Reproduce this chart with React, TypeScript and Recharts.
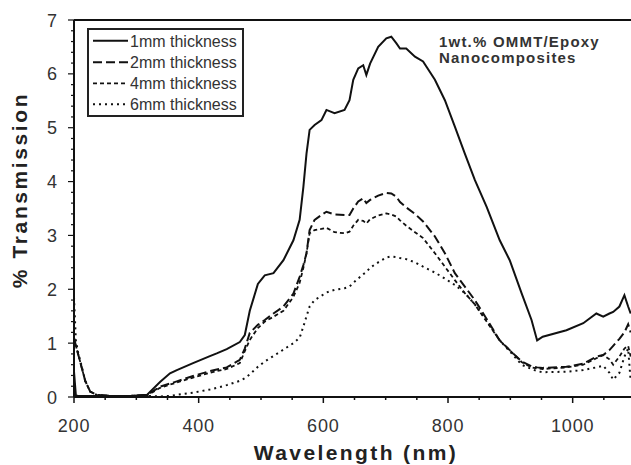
import React from 'react';
import { LineChart, Line, XAxis, YAxis, ReferenceLine, Legend } from 'recharts';

// ---- data ----
const wavelengths = [
  200, 203, 207, 210, 218, 226, 236, 260, 290, 317, 338, 354, 365, 391, 418, 429, 445, 466, 474, 482,
  495, 506, 520, 536, 552, 562, 568, 573, 578, 586, 597, 605, 618, 634, 642, 648, 656, 664, 669, 675,
  688, 701, 709, 717, 723, 733, 747, 760, 779, 795, 811, 827, 843, 862, 883, 899, 918, 934, 943, 952,
  990, 1017, 1038, 1049, 1059, 1065, 1075, 1083, 1089, 1093,
];
const t1mm = [
  0.47, 0.03, 0.02, 0.02, 0.02, 0.02, 0.02, 0.02, 0.02, 0.04, 0.28, 0.44, 0.5, 0.63, 0.76, 0.81, 0.89, 1.02, 1.15, 1.6,
  2.1, 2.26, 2.3, 2.54, 2.91, 3.29, 3.9, 4.52, 4.96, 5.05, 5.14, 5.33, 5.27, 5.33, 5.51, 5.89, 6.1, 6.16, 5.98, 6.19,
  6.5, 6.66, 6.69, 6.57, 6.47, 6.47, 6.32, 6.23, 5.89, 5.51, 5.02, 4.52, 4.03, 3.53, 2.91, 2.54, 1.93, 1.43, 1.05, 1.12,
  1.24, 1.37, 1.55, 1.49, 1.55, 1.58, 1.68, 1.89, 1.68, 1.55,
];
const t2mm = [
  1.1, 0.95, 0.78, 0.65, 0.3, 0.1, 0.04, 0.02, 0.02, 0.04, 0.19, 0.25, 0.29, 0.39, 0.48, 0.51, 0.55, 0.69, 0.9, 1.19,
  1.34, 1.43, 1.55, 1.68, 1.92, 2.23, 2.45, 2.67, 3.1, 3.29, 3.38, 3.44, 3.39, 3.38, 3.38, 3.5, 3.63, 3.69, 3.6, 3.66,
  3.74, 3.79, 3.78, 3.72, 3.62, 3.52, 3.4, 3.26, 2.98, 2.67, 2.3, 2.05, 1.8, 1.45, 1.05, 0.87, 0.66, 0.57, 0.55, 0.54,
  0.56, 0.62, 0.75, 0.78, 0.87, 0.95, 1.08, 1.2, 1.35, 1.2,
];
const t4mm = [
  1.1, 0.95, 0.78, 0.65, 0.3, 0.1, 0.04, 0.02, 0.02, 0.03, 0.17, 0.23, 0.27, 0.36, 0.45, 0.48, 0.52, 0.63, 0.85, 1.06,
  1.28, 1.4, 1.49, 1.6, 1.86, 2.12, 2.4, 2.67, 3.04, 3.1, 3.12, 3.14, 3.06, 3.04, 3.07, 3.18, 3.29, 3.27, 3.22, 3.3,
  3.37, 3.41, 3.39, 3.35, 3.28, 3.18, 3.06, 2.95, 2.67, 2.42, 2.17, 1.93, 1.72, 1.4, 1.05, 0.87, 0.65, 0.55, 0.53, 0.52,
  0.55, 0.6, 0.72, 0.78, 0.7, 0.6, 0.75, 0.9, 0.95, 0.75,
];
const t6mm = [
  1.85, 1.05, 0.8, 0.68, 0.3, 0.1, 0.04, 0.02, 0.02, 0.02, 0.01, 0.02, 0.04, 0.08, 0.14, 0.17, 0.22, 0.3, 0.35, 0.42,
  0.56, 0.66, 0.76, 0.88, 1.0, 1.1, 1.31, 1.5, 1.68, 1.8, 1.88, 1.94, 1.99, 2.02, 2.05, 2.12, 2.2, 2.28, 2.32, 2.4,
  2.5, 2.59, 2.61, 2.6, 2.58, 2.56, 2.5, 2.42, 2.31, 2.2, 2.08, 1.93, 1.72, 1.42, 1.05, 0.85, 0.6, 0.52, 0.48, 0.46,
  0.47, 0.5, 0.55, 0.58, 0.45, 0.32, 0.45, 0.75, 0.9, 0.3,
];
const seriesNames = ['1mm thickness', '2mm thickness', '4mm thickness', '6mm thickness'];
const xMajorTicks = [200, 400, 600, 800, 1000];
const yMajorTicks = [0, 1, 2, 3, 4, 5, 6, 7];
const annotationLines = ['1wt.% OMMT/Epoxy', 'Nanocomposites'];
const xTitle = 'Wavelength (nm)';
const yTitle = '% Transmission';

// ---- derived table ----
const seriesKeys = ['t1', 't2', 't4', 't6'];
const data = wavelengths.map((wl, i) => ({
  wl,
  t1: t1mm[i],
  t2: t2mm[i],
  t4: t4mm[i],
  t6: t6mm[i],
}));

const xTicks: number[] = [];
for (let v = 200; v <= 1100; v += 50) xTicks.push(v);
const yTicks: number[] = [];
for (let i = 0; i <= 35; i++) yTicks.push(Math.round(i * 2) / 10);

const FONT = '"Liberation Sans", Arial, Helvetica, sans-serif';
const INK = '#111';

const seriesStyles = [
  { dash: undefined as string | undefined, width: 2 },
  { dash: '9 4', width: 2 },
  { dash: '4 3', width: 1.8 },
  { dash: '2 4', width: 2 },
];

const XTick = (props: any) => {
  const { x, y, payload } = props;
  const v = payload.value;
  const major = xMajorTicks.includes(v);
  return (
    <g>
      <line x1={x} x2={x} y1={y} y2={y + (major ? 6 : 3)} stroke={INK} strokeWidth={1.5} />
      {major && (
        <text x={x} y={y + 35} textAnchor="middle" fontSize={18} fill="#333" fontFamily={FONT} letterSpacing={0.8}>
          {v}
        </text>
      )}
    </g>
  );
};

const YTick = (props: any) => {
  const { x, y, payload } = props;
  const v = payload.value;
  const major = yMajorTicks.includes(v);
  return (
    <g>
      <line x1={x - (major ? 6 : 3)} x2={x} y1={y} y2={y} stroke={INK} strokeWidth={1.2} />
      {major && (
        <text x={x - 17} y={y + 6.5} textAnchor="end" fontSize={18} fill="#333" fontFamily={FONT}>
          {v}
        </text>
      )}
    </g>
  );
};

const XTitle = () => (
  <text x={356} y={460} textAnchor="middle" fontSize={21} fontWeight="bold" fill="#222" fontFamily={FONT} letterSpacing={2.4}>
    {xTitle}
  </text>
);

const YTitle = () => (
  <text
    x={0}
    y={0}
    transform="translate(27,190) rotate(-90)"
    textAnchor="middle"
    fontSize={21}
    fontWeight="bold"
    fill="#222"
    fontFamily={FONT}
    letterSpacing={2.6}
  >
    {yTitle}
  </text>
);

const Annotation = () => (
  <g>
    {annotationLines.map((t, i) => (
      <text
        key={t}
        x={439}
        y={46.5 + i * 16}
        fontSize={15}
        fontWeight="bold"
        fill="#333"
        fontFamily={FONT}
        letterSpacing={1.2}
      >
        {t}
      </text>
    ))}
  </g>
);

const LegendBox = () => {
  const rowY = [10.7, 32.3, 53.3, 74.3];
  return (
    <div
      style={{
        width: 157,
        height: 89,
        boxSizing: 'border-box',
        border: '2px solid #222',
        background: '#fff',
      }}
    >
      <svg width={153} height={85} style={{ display: 'block' }}>
        {seriesNames.map((name, i) => (
          <g key={name}>
            <line
              x1={4}
              x2={39}
              y1={rowY[i]}
              y2={rowY[i]}
              stroke={INK}
              strokeWidth={seriesStyles[i].width}
              strokeDasharray={seriesStyles[i].dash}
            />
            <text x={41} y={rowY[i] + 6} fontSize={16} fill="#333" fontFamily={FONT}>
              {name}
            </text>
          </g>
        ))}
      </svg>
    </div>
  );
};

export default function App() {
  return (
    <div
      style={{
        position: 'fixed',
        left: 0,
        top: 0,
        width: 631,
        height: 465,
        overflow: 'hidden',
        background: '#fff',
      }}
    >
      <LineChart width={645} height={465} data={data} margin={{ top: 20, right: 10, bottom: 0, left: 0 }}>
        <XAxis
          dataKey="wl"
          type="number"
          domain={[200, 1100]}
          ticks={xTicks}
          interval={0}
          tickSize={0}
          tickMargin={0}
          tick={<XTick />}
          axisLine={{ stroke: INK, strokeWidth: 2 }}
          height={68}
          allowDataOverflow
          label={<XTitle />}
        />
        <YAxis
          type="number"
          domain={[0, 7]}
          ticks={yTicks}
          interval={0}
          tickSize={0}
          tickMargin={0}
          tick={<YTick />}
          axisLine={{ stroke: INK, strokeWidth: 2 }}
          width={74}
          allowDataOverflow
          label={<YTitle />}
        />
        <ReferenceLine y={7} stroke={INK} strokeWidth={2} label={<Annotation />} />
        <Legend
          layout="horizontal"
          verticalAlign="middle"
          align="center"
          content={<LegendBox />}
          wrapperStyle={{ position: 'absolute', left: 87, top: 28, width: 157, height: 89 }}
        />
        {seriesKeys.map((k, i) => (
          <Line
            key={k}
            dataKey={k}
            name={seriesNames[i]}
            type="linear"
            stroke={INK}
            strokeWidth={seriesStyles[i].width}
            strokeDasharray={seriesStyles[i].dash}
            dot={false}
            activeDot={false}
            isAnimationActive={false}
          />
        ))}
      </LineChart>
    </div>
  );
}
